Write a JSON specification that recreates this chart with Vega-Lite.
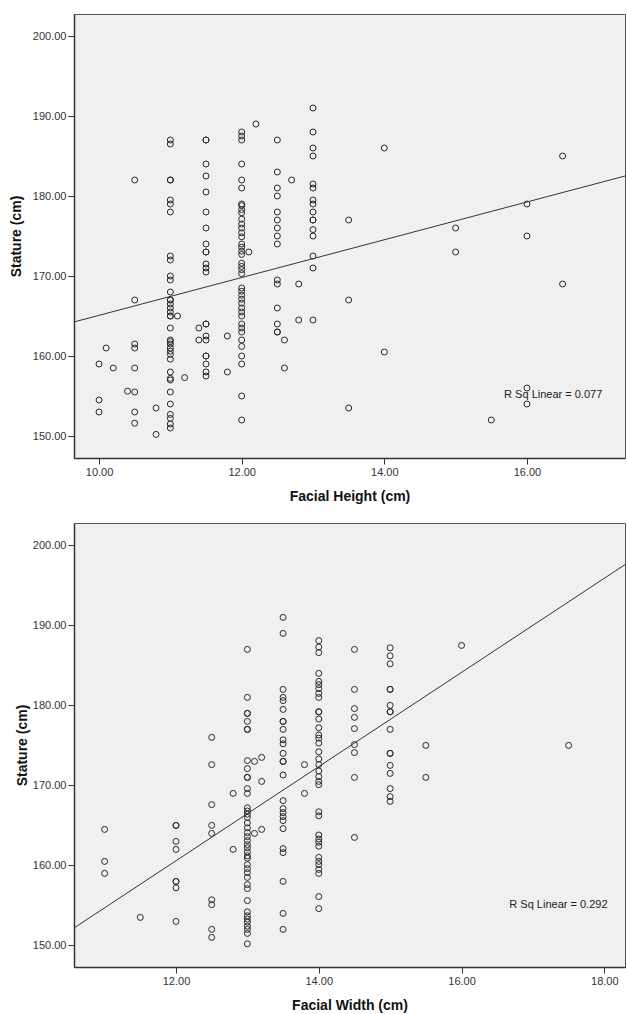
{
  "$schema": "https://vega.github.io/schema/vega-lite/v6.json",
  "background": "white",
  "padding": {"top": 13, "left": 8, "right": 1, "bottom": 0},
  "spacing": 18,
  "config": {
    "font": "Liberation Sans",
    "view": {"fill": "#f0f0f0", "stroke": "#555555", "strokeWidth": 1},
    "axis": {
      "grid": false,
      "domainColor": "#333333",
      "domainWidth": 1.5,
      "tickColor": "#333333",
      "tickSize": 6,
      "labelFont": "Liberation Sans",
      "labelFontSize": 11,
      "labelColor": "#333333",
      "titleFont": "Liberation Sans",
      "titleFontSize": 14,
      "titleFontWeight": "bold",
      "titleColor": "#111111",
      "labelFlush": false
    }
  },
  "datasets": {
    "heightPts": [
      {"fh": 10, "st": 159}, {"fh": 10, "st": 154.5}, {"fh": 10, "st": 153},
      {"fh": 10.1, "st": 161}, {"fh": 10.2, "st": 158.5}, {"fh": 10.4, "st": 155.6},
      {"fh": 10.5, "st": 182}, {"fh": 10.5, "st": 167}, {"fh": 10.5, "st": 161.5}, {"fh": 10.5, "st": 161}, {"fh": 10.5, "st": 158.5}, {"fh": 10.5, "st": 155.5}, {"fh": 10.5, "st": 153}, {"fh": 10.5, "st": 151.6},
      {"fh": 10.8, "st": 153.5}, {"fh": 10.8, "st": 150.2},
      {"fh": 11, "st": 187}, {"fh": 11, "st": 186.5}, {"fh": 11, "st": 182}, {"fh": 11, "st": 182}, {"fh": 11, "st": 179.5}, {"fh": 11, "st": 179}, {"fh": 11, "st": 178}, {"fh": 11, "st": 172.5}, {"fh": 11, "st": 172}, {"fh": 11, "st": 170}, {"fh": 11, "st": 169.5}, {"fh": 11, "st": 168}, {"fh": 11, "st": 167}, {"fh": 11, "st": 167}, {"fh": 11, "st": 166.5}, {"fh": 11, "st": 166}, {"fh": 11, "st": 165.5}, {"fh": 11, "st": 165}, {"fh": 11, "st": 165}, {"fh": 11, "st": 163.5}, {"fh": 11, "st": 162}, {"fh": 11, "st": 161.8}, {"fh": 11, "st": 161.5}, {"fh": 11, "st": 161}, {"fh": 11, "st": 160.6}, {"fh": 11, "st": 160.2}, {"fh": 11, "st": 159.6}, {"fh": 11, "st": 158}, {"fh": 11, "st": 157.2}, {"fh": 11, "st": 157}, {"fh": 11, "st": 155.5}, {"fh": 11, "st": 154}, {"fh": 11, "st": 152.7}, {"fh": 11, "st": 152.2}, {"fh": 11, "st": 151.5}, {"fh": 11, "st": 151},
      {"fh": 11.1, "st": 165}, {"fh": 11.2, "st": 157.3}, {"fh": 11.4, "st": 163.5}, {"fh": 11.4, "st": 162},
      {"fh": 11.5, "st": 187}, {"fh": 11.5, "st": 187}, {"fh": 11.5, "st": 184}, {"fh": 11.5, "st": 182.5}, {"fh": 11.5, "st": 180.5}, {"fh": 11.5, "st": 178}, {"fh": 11.5, "st": 176}, {"fh": 11.5, "st": 174}, {"fh": 11.5, "st": 173}, {"fh": 11.5, "st": 173}, {"fh": 11.5, "st": 171.5}, {"fh": 11.5, "st": 171}, {"fh": 11.5, "st": 170.5}, {"fh": 11.5, "st": 164}, {"fh": 11.5, "st": 164}, {"fh": 11.5, "st": 162.5}, {"fh": 11.5, "st": 162}, {"fh": 11.5, "st": 160}, {"fh": 11.5, "st": 160}, {"fh": 11.5, "st": 159}, {"fh": 11.5, "st": 158}, {"fh": 11.5, "st": 157.5},
      {"fh": 11.8, "st": 162.5}, {"fh": 11.8, "st": 158},
      {"fh": 12, "st": 188}, {"fh": 12, "st": 187.5}, {"fh": 12, "st": 187}, {"fh": 12, "st": 184}, {"fh": 12, "st": 182}, {"fh": 12, "st": 181}, {"fh": 12, "st": 179}, {"fh": 12, "st": 178.8}, {"fh": 12, "st": 178.3}, {"fh": 12, "st": 177.9}, {"fh": 12, "st": 177.1}, {"fh": 12, "st": 176.5}, {"fh": 12, "st": 176}, {"fh": 12, "st": 175.4}, {"fh": 12, "st": 174.9}, {"fh": 12, "st": 174}, {"fh": 12, "st": 173.6}, {"fh": 12, "st": 173.1}, {"fh": 12, "st": 172.7}, {"fh": 12, "st": 171.6}, {"fh": 12, "st": 171.2}, {"fh": 12, "st": 170.8}, {"fh": 12, "st": 170.3}, {"fh": 12, "st": 168.5}, {"fh": 12, "st": 168.1}, {"fh": 12, "st": 167.6}, {"fh": 12, "st": 167.1}, {"fh": 12, "st": 166.6}, {"fh": 12, "st": 166}, {"fh": 12, "st": 165.5}, {"fh": 12, "st": 165}, {"fh": 12, "st": 164}, {"fh": 12, "st": 163.5}, {"fh": 12, "st": 163}, {"fh": 12, "st": 162}, {"fh": 12, "st": 161.2}, {"fh": 12, "st": 160}, {"fh": 12, "st": 159}, {"fh": 12, "st": 155}, {"fh": 12, "st": 152},
      {"fh": 12.1, "st": 173}, {"fh": 12.2, "st": 189},
      {"fh": 12.5, "st": 187}, {"fh": 12.5, "st": 183}, {"fh": 12.5, "st": 181}, {"fh": 12.5, "st": 180}, {"fh": 12.5, "st": 178}, {"fh": 12.5, "st": 177}, {"fh": 12.5, "st": 176}, {"fh": 12.5, "st": 175}, {"fh": 12.5, "st": 174}, {"fh": 12.5, "st": 169.5}, {"fh": 12.5, "st": 169}, {"fh": 12.5, "st": 166}, {"fh": 12.5, "st": 164}, {"fh": 12.5, "st": 163}, {"fh": 12.5, "st": 163},
      {"fh": 12.6, "st": 162}, {"fh": 12.6, "st": 158.5}, {"fh": 12.7, "st": 182}, {"fh": 12.8, "st": 169}, {"fh": 12.8, "st": 164.5},
      {"fh": 13, "st": 191}, {"fh": 13, "st": 188}, {"fh": 13, "st": 186}, {"fh": 13, "st": 185}, {"fh": 13, "st": 181.5}, {"fh": 13, "st": 181}, {"fh": 13, "st": 179.5}, {"fh": 13, "st": 179}, {"fh": 13, "st": 178}, {"fh": 13, "st": 177}, {"fh": 13, "st": 177}, {"fh": 13, "st": 175.8}, {"fh": 13, "st": 175}, {"fh": 13, "st": 172.5}, {"fh": 13, "st": 171}, {"fh": 13, "st": 164.5},
      {"fh": 13.5, "st": 177}, {"fh": 13.5, "st": 167}, {"fh": 13.5, "st": 153.5},
      {"fh": 14, "st": 186}, {"fh": 14, "st": 160.5},
      {"fh": 15, "st": 176}, {"fh": 15, "st": 173}, {"fh": 15.5, "st": 152},
      {"fh": 16, "st": 179}, {"fh": 16, "st": 175}, {"fh": 16, "st": 156}, {"fh": 16, "st": 154},
      {"fh": 16.5, "st": 185}, {"fh": 16.5, "st": 169}
    ],
    "heightFit": [{"fh": 9.6, "st": 164.14}, {"fh": 17.375, "st": 182.5}],
    "widthPts": [
      {"fw": 11, "st": 164.5}, {"fw": 11, "st": 160.5}, {"fw": 11, "st": 159},
      {"fw": 11.5, "st": 153.5},
      {"fw": 12, "st": 165}, {"fw": 12, "st": 165}, {"fw": 12, "st": 163}, {"fw": 12, "st": 162}, {"fw": 12, "st": 158}, {"fw": 12, "st": 158}, {"fw": 12, "st": 157.2}, {"fw": 12, "st": 153},
      {"fw": 12.5, "st": 176}, {"fw": 12.5, "st": 172.6}, {"fw": 12.5, "st": 167.6}, {"fw": 12.5, "st": 165}, {"fw": 12.5, "st": 164}, {"fw": 12.5, "st": 155.7}, {"fw": 12.5, "st": 155.1}, {"fw": 12.5, "st": 152}, {"fw": 12.5, "st": 151},
      {"fw": 12.8, "st": 169}, {"fw": 12.8, "st": 162},
      {"fw": 13, "st": 187}, {"fw": 13, "st": 181}, {"fw": 13, "st": 179}, {"fw": 13, "st": 179}, {"fw": 13, "st": 178}, {"fw": 13, "st": 177}, {"fw": 13, "st": 177}, {"fw": 13, "st": 173.1}, {"fw": 13, "st": 172.1}, {"fw": 13, "st": 171}, {"fw": 13, "st": 171}, {"fw": 13, "st": 169.6}, {"fw": 13, "st": 169}, {"fw": 13, "st": 167.2}, {"fw": 13, "st": 166.8}, {"fw": 13, "st": 166.4}, {"fw": 13, "st": 166}, {"fw": 13, "st": 165.3}, {"fw": 13, "st": 164.7}, {"fw": 13, "st": 164.1}, {"fw": 13, "st": 163.6}, {"fw": 13, "st": 163.1}, {"fw": 13, "st": 162.6}, {"fw": 13, "st": 162.2}, {"fw": 13, "st": 161.7}, {"fw": 13, "st": 161.2}, {"fw": 13, "st": 160.9}, {"fw": 13, "st": 160.1}, {"fw": 13, "st": 159.6}, {"fw": 13, "st": 159.1}, {"fw": 13, "st": 158.5}, {"fw": 13, "st": 157.6}, {"fw": 13, "st": 157.1}, {"fw": 13, "st": 155.6}, {"fw": 13, "st": 154.2}, {"fw": 13, "st": 153.7}, {"fw": 13, "st": 153.3}, {"fw": 13, "st": 152.9}, {"fw": 13, "st": 152.4}, {"fw": 13, "st": 152}, {"fw": 13, "st": 151.5}, {"fw": 13, "st": 150.2},
      {"fw": 13.1, "st": 173}, {"fw": 13.1, "st": 164},
      {"fw": 13.2, "st": 173.5}, {"fw": 13.2, "st": 170.5}, {"fw": 13.2, "st": 164.5},
      {"fw": 13.5, "st": 191}, {"fw": 13.5, "st": 189}, {"fw": 13.5, "st": 182}, {"fw": 13.5, "st": 181}, {"fw": 13.5, "st": 180.6}, {"fw": 13.5, "st": 179.5}, {"fw": 13.5, "st": 178}, {"fw": 13.5, "st": 178}, {"fw": 13.5, "st": 177}, {"fw": 13.5, "st": 175.7}, {"fw": 13.5, "st": 175.2}, {"fw": 13.5, "st": 174}, {"fw": 13.5, "st": 173}, {"fw": 13.5, "st": 173}, {"fw": 13.5, "st": 171.3}, {"fw": 13.5, "st": 168.1}, {"fw": 13.5, "st": 167.1}, {"fw": 13.5, "st": 166.6}, {"fw": 13.5, "st": 166.1}, {"fw": 13.5, "st": 165.6}, {"fw": 13.5, "st": 164.6}, {"fw": 13.5, "st": 162.1}, {"fw": 13.5, "st": 161.6}, {"fw": 13.5, "st": 158}, {"fw": 13.5, "st": 154}, {"fw": 13.5, "st": 152},
      {"fw": 13.8, "st": 172.6}, {"fw": 13.8, "st": 169},
      {"fw": 14, "st": 188.1}, {"fw": 14, "st": 187.3}, {"fw": 14, "st": 186.6}, {"fw": 14, "st": 184}, {"fw": 14, "st": 183}, {"fw": 14, "st": 182.6}, {"fw": 14, "st": 182.1}, {"fw": 14, "st": 181.5}, {"fw": 14, "st": 181}, {"fw": 14, "st": 179.2}, {"fw": 14, "st": 179.2}, {"fw": 14, "st": 178.3}, {"fw": 14, "st": 177.2}, {"fw": 14, "st": 176.3}, {"fw": 14, "st": 175.9}, {"fw": 14, "st": 175.3}, {"fw": 14, "st": 174.2}, {"fw": 14, "st": 173.3}, {"fw": 14, "st": 172.6}, {"fw": 14, "st": 171.8}, {"fw": 14, "st": 171.1}, {"fw": 14, "st": 170.5}, {"fw": 14, "st": 170.1}, {"fw": 14, "st": 166.7}, {"fw": 14, "st": 166.2}, {"fw": 14, "st": 163.8}, {"fw": 14, "st": 163.3}, {"fw": 14, "st": 162.9}, {"fw": 14, "st": 162.4}, {"fw": 14, "st": 161}, {"fw": 14, "st": 160.5}, {"fw": 14, "st": 160.1}, {"fw": 14, "st": 159.5}, {"fw": 14, "st": 159}, {"fw": 14, "st": 156.1}, {"fw": 14, "st": 154.6},
      {"fw": 14.5, "st": 187}, {"fw": 14.5, "st": 182}, {"fw": 14.5, "st": 179.6}, {"fw": 14.5, "st": 178.5}, {"fw": 14.5, "st": 177.1}, {"fw": 14.5, "st": 175.1}, {"fw": 14.5, "st": 174.1}, {"fw": 14.5, "st": 171}, {"fw": 14.5, "st": 163.5},
      {"fw": 15, "st": 187.2}, {"fw": 15, "st": 186.2}, {"fw": 15, "st": 185.2}, {"fw": 15, "st": 182}, {"fw": 15, "st": 182}, {"fw": 15, "st": 180}, {"fw": 15, "st": 179.2}, {"fw": 15, "st": 179.2}, {"fw": 15, "st": 177}, {"fw": 15, "st": 174}, {"fw": 15, "st": 174}, {"fw": 15, "st": 172.5}, {"fw": 15, "st": 171.5}, {"fw": 15, "st": 169.6}, {"fw": 15, "st": 168.6}, {"fw": 15, "st": 168},
      {"fw": 15.5, "st": 175}, {"fw": 15.5, "st": 171},
      {"fw": 16, "st": 187.5}, {"fw": 17.5, "st": 175}
    ],
    "widthFit": [{"fw": 10.55, "st": 152.05}, {"fw": 18.29, "st": 197.6}]
  },
  "vconcat": [
    {
      "width": 551,
      "height": 444,
      "layer": [
        {
          "data": {"name": "heightPts"},
          "mark": {"type": "point", "shape": "circle", "filled": false, "stroke": "#2a2a2a", "strokeWidth": 1, "size": 36, "opacity": 1},
          "encoding": {
            "x": {"field": "fh", "type": "quantitative", "title": "Facial Height (cm)",
                  "scale": {"domain": [9.649, 17.375], "nice": false, "zero": false},
                  "axis": {"values": [10, 12, 14, 16], "format": ".2f", "labelPadding": 2, "titlePadding": 12}},
            "y": {"field": "st", "type": "quantitative", "title": "Stature (cm)",
                  "scale": {"domain": [147.25, 202.75], "nice": false, "zero": false},
                  "axis": {"values": [150, 160, 170, 180, 190, 200], "format": ".2f", "labelPadding": 2, "titlePadding": 9}}
          }
        },
        {
          "data": {"name": "heightFit"},
          "mark": {"type": "line", "stroke": "#333333", "strokeWidth": 1, "clip": true},
          "encoding": {
            "x": {"field": "fh", "type": "quantitative"},
            "y": {"field": "st", "type": "quantitative"}
          }
        },
        {
          "data": {"values": [{"label": "R Sq Linear = 0.077"}]},
          "mark": {"type": "text", "align": "left", "baseline": "middle", "fontSize": 11, "color": "#222222", "font": "Liberation Sans"},
          "encoding": {
            "x": {"datum": 15.68, "type": "quantitative"},
            "y": {"datum": 155.1, "type": "quantitative"},
            "text": {"field": "label"}
          }
        }
      ]
    },
    {
      "width": 551,
      "height": 444,
      "layer": [
        {
          "data": {"name": "widthPts"},
          "mark": {"type": "point", "shape": "circle", "filled": false, "stroke": "#2a2a2a", "strokeWidth": 1, "size": 36, "opacity": 1},
          "encoding": {
            "x": {"field": "fw", "type": "quantitative", "title": "Facial Width (cm)",
                  "scale": {"domain": [10.571, 18.29], "nice": false, "zero": false},
                  "axis": {"values": [12, 14, 16, 18], "format": ".2f", "labelPadding": 2, "titlePadding": 12}},
            "y": {"field": "st", "type": "quantitative", "title": "Stature (cm)",
                  "scale": {"domain": [147.3, 202.8], "nice": false, "zero": false},
                  "axis": {"values": [150, 160, 170, 180, 190, 200], "format": ".2f", "labelPadding": 2, "titlePadding": 3}}
          }
        },
        {
          "data": {"name": "widthFit"},
          "mark": {"type": "line", "stroke": "#333333", "strokeWidth": 1, "clip": true},
          "encoding": {
            "x": {"field": "fw", "type": "quantitative"},
            "y": {"field": "st", "type": "quantitative"}
          }
        },
        {
          "data": {"values": [{"label": "R Sq Linear = 0.292"}]},
          "mark": {"type": "text", "align": "left", "baseline": "middle", "fontSize": 11, "color": "#222222", "font": "Liberation Sans"},
          "encoding": {
            "x": {"datum": 16.67, "type": "quantitative"},
            "y": {"datum": 155.1, "type": "quantitative"},
            "text": {"field": "label"}
          }
        }
      ]
    }
  ]
}
